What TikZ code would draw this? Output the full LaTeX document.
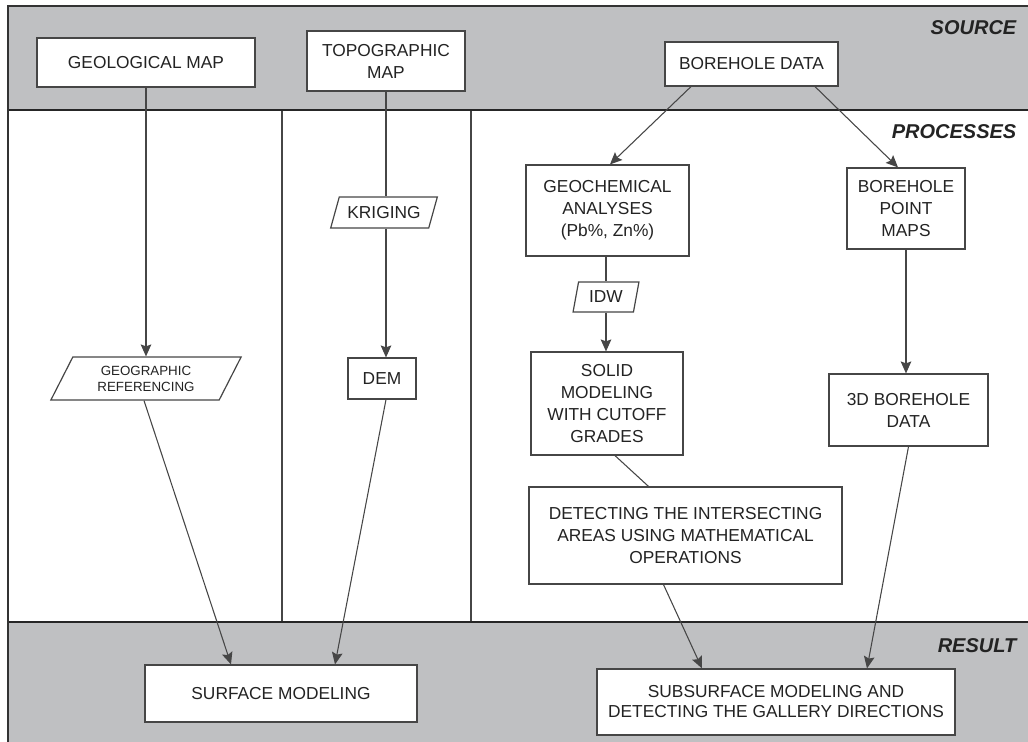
\documentclass[tikz,border=0pt]{standalone}
\usepackage{fontspec}
\setmainfont{Liberation Sans}
\usetikzlibrary{shapes.geometric,arrows.meta}
\definecolor{bandgray}{RGB}{191,192,194}
\definecolor{linegray}{RGB}{70,70,70}
\definecolor{textgray}{RGB}{35,35,35}
\newcommand{\pxu}{0.75pt}
\tikzset{
  box/.style={draw=linegray, fill=white, line width=0.9pt, align=center, inner sep=1pt, text=textgray, font=\fontsize{13}{16.5}\selectfont},
  para/.style={box, trapezium, trapezium stretches=true, trapezium left angle=#1, trapezium right angle=180-#1},
  flow/.style={draw=linegray, line width=0.8pt, -{Stealth[length=9pt, width=8pt, inset=1.5pt]}},
  link/.style={draw=linegray, line width=0.8pt},
  bandlabel/.style={anchor=east, text=textgray, font=\bfseries\itshape\fontsize{15}{18}\selectfont}
}
\begin{document}
\begin{tikzpicture}[x=\pxu, y=-\pxu]
\useasboundingbox (0,0) rectangle (1028,742);
\fill[bandgray] (8,6) rectangle (1028,110);
\fill[bandgray] (8,622) rectangle (1028,742);
\foreach \xdiv in {282,471} \draw[linegray, line width=0.8pt] (\xdiv,110) -- (\xdiv,622);
\draw[black!85, line width=1.4pt] (8,110) -- (1028,110);
\draw[black!85, line width=1.4pt] (8,622) -- (1028,622);
\draw[black!80, line width=2.2pt] (8,742) -- (8,6) -- (1028,6);

\node[bandlabel] (source) at (1021,28) {SOURCE};
\node[bandlabel] (processes) at (1021,132) {PROCESSES};
\node[bandlabel] (result) at (1021,646) {RESULT};

\node[box, minimum width=218*\pxu, minimum height=49*\pxu] (geomap) at (146,62.5) {GEOLOGICAL MAP};
\node[box, minimum width=158*\pxu, minimum height=60*\pxu] (topomap) at (386,61) {TOPOGRAPHIC\\MAP};
\node[box, minimum width=173*\pxu, minimum height=44*\pxu] (boredata) at (751.5,64) {BOREHOLE DATA};

\node[para=64, minimum width=107*\pxu, minimum height=31*\pxu] (kriging) at (384,212.5) {KRIGING};
\node[box, minimum width=68*\pxu, minimum height=41*\pxu] (dem) at (382,378.5) {DEM};
\node[para=62, minimum width=192*\pxu, minimum height=43*\pxu, font=\fontsize{10}{12}\selectfont] (georef) at (146,378.5) {GEOGRAPHIC\\REFERENCING};

\node[box, minimum width=163*\pxu, minimum height=91*\pxu] (geochem) at (607.5,210.5) {GEOCHEMICAL\\ANALYSES\\(Pb\%, Zn\%)};
\node[para=76, minimum width=66*\pxu, minimum height=30*\pxu] (idw) at (606,297) {IDW};
\node[box, minimum width=152*\pxu, minimum height=103*\pxu] (solid) at (607,403.5) {SOLID\\MODELING\\WITH CUTOFF\\GRADES};
\node[box, minimum width=313*\pxu, minimum height=97*\pxu] (detect) at (685.5,535.5) {DETECTING THE INTERSECTING\\AREAS USING MATHEMATICAL\\OPERATIONS};

\node[box, minimum width=118*\pxu, minimum height=81*\pxu] (pointmaps) at (906,208.5) {BOREHOLE\\POINT\\MAPS};
\node[box, minimum width=159*\pxu, minimum height=72*\pxu] (borehole3d) at (908.5,410) {3D BOREHOLE\\DATA};

\node[box, minimum width=272*\pxu, minimum height=57*\pxu] (surface) at (281,693.5) {SURFACE MODELING};
\node[box, minimum width=358*\pxu, minimum height=66*\pxu, font=\fontsize{13}{15}\selectfont] (subsurface) at (776,702) {SUBSURFACE MODELING AND\\DETECTING THE GALLERY DIRECTIONS};

\draw[flow] (geomap.south) -- (geomap.south |- georef.north);
\draw[flow] ([xshift=-2*\pxu]georef.south) -- ([xshift=-50*\pxu]surface.north);
\draw[link] (topomap.south) -- (topomap.south |- kriging.north);
\draw[flow] (topomap.south |- kriging.south) -- (topomap.south |- dem.north);
\draw[flow] ([xshift=4*\pxu]dem.south) -- ([xshift=54*\pxu]surface.north);
\draw[flow] ([xshift=-60.5*\pxu]boredata.south) -- ([xshift=2.5*\pxu]geochem.north);
\draw[flow] ([xshift=63.5*\pxu]boredata.south) -- ([xshift=-8*\pxu]pointmaps.north);
\draw[link] (geochem.south -| idw.north) -- (idw.north);
\draw[flow] (idw.south) -- (idw.south |- solid.north);
\draw[link] ([xshift=8*\pxu]solid.south) -- ([xshift=-37*\pxu]detect.north);
\draw[flow] ([xshift=-22*\pxu]detect.south) -- ([xshift=-74*\pxu]subsurface.north);
\draw[flow] (pointmaps.south) -- (pointmaps.south |- borehole3d.north);
\draw[flow] (borehole3d.south) -- ([xshift=91*\pxu]subsurface.north);
\end{tikzpicture}
\end{document}
